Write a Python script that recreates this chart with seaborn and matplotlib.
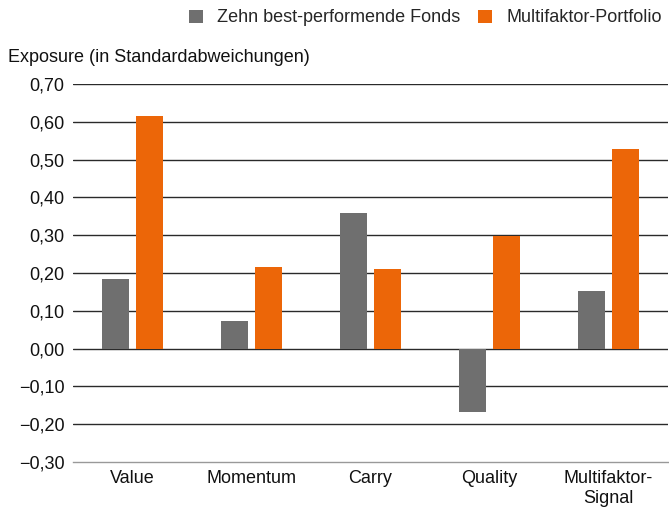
import matplotlib
matplotlib.use("Agg")
import matplotlib.pyplot as plt
import seaborn as sns
import pandas as pd
from matplotlib.patches import Patch
from matplotlib.ticker import FixedLocator

categories = ["Value", "Momentum", "Carry", "Quality", "Multifaktor-\nSignal"]
series_names = ["Zehn best-performende Fonds", "Multifaktor-Portfolio"]
fonds = [0.183, 0.072, 0.360, -0.167, 0.152]
portfolio = [0.615, 0.217, 0.210, 0.297, 0.527]
y_ticks = [-0.30, -0.20, -0.10, 0.00, 0.10, 0.20, 0.30, 0.40, 0.50, 0.60, 0.70]
colors = ["#6f6f6f", "#ec6608"]

df = pd.DataFrame({
    "Kategorie": categories * 2,
    "Serie": [series_names[0]] * 5 + [series_names[1]] * 5,
    "Wert": fonds + portfolio,
})

sns.set_style("white")
plt.rcParams["font.family"] = ["Liberation Sans", "DejaVu Sans"]
FS = 13

fig = plt.figure(figsize=(6.69, 5.07), dpi=100)
ax = fig.add_axes([73 / 669, 1 - 462 / 507, 595 / 669, (462 - 84) / 507])

sns.barplot(data=df, x="Kategorie", y="Wert", hue="Serie", palette=colors,
            width=0.57, gap=0.2, ax=ax, legend=False, saturation=1, zorder=3,
            linewidth=0, edgecolor="none")

ax.set_xlim(-0.5, 4.5)
ax.set_ylim(-0.30, 0.70)
ax.set_yticks(y_ticks)
ax.set_yticklabels([("−" if v < 0 else "") + f"{abs(v):.2f}".replace(".", ",") for v in y_ticks],
                   fontsize=FS)
for v in y_ticks[1:]:
    ax.axhline(v, color="#2a2a2a", lw=1.0, zorder=1)

for s in ["top", "right", "left"]:
    ax.spines[s].set_visible(False)
ax.spines["bottom"].set_color("#999999")
ax.spines["bottom"].set_linewidth(1.0)

ax.tick_params(axis="y", length=0, pad=6, labelcolor="#111111")
ax.tick_params(axis="x", which="major", length=0, pad=6, labelsize=FS, labelcolor="#111111")
ax.xaxis.set_minor_locator(FixedLocator([-0.5, 0.5, 1.5, 2.5, 3.5, 4.5]))
ax.tick_params(axis="x", which="minor", length=8, color="#999999", width=1, direction="out")
ax.set_xlabel("")
ax.set_ylabel("")

fig.text(8 / 669, 1 - 58 / 507, "Exposure (in Standardabweichungen)", fontsize=FS,
         color="#111111", va="center", ha="left")

handles = [Patch(facecolor=c, edgecolor="none") for c in colors]
fig.legend(handles, series_names, loc="center right", bbox_to_anchor=(1.0, 1 - 18 / 507),
           ncol=2, frameon=False, fontsize=FS, handlelength=0.75, handleheight=0.75,
           handletextpad=0.8, columnspacing=1.0, borderaxespad=0)

fig.savefig("out.png", dpi=100)
